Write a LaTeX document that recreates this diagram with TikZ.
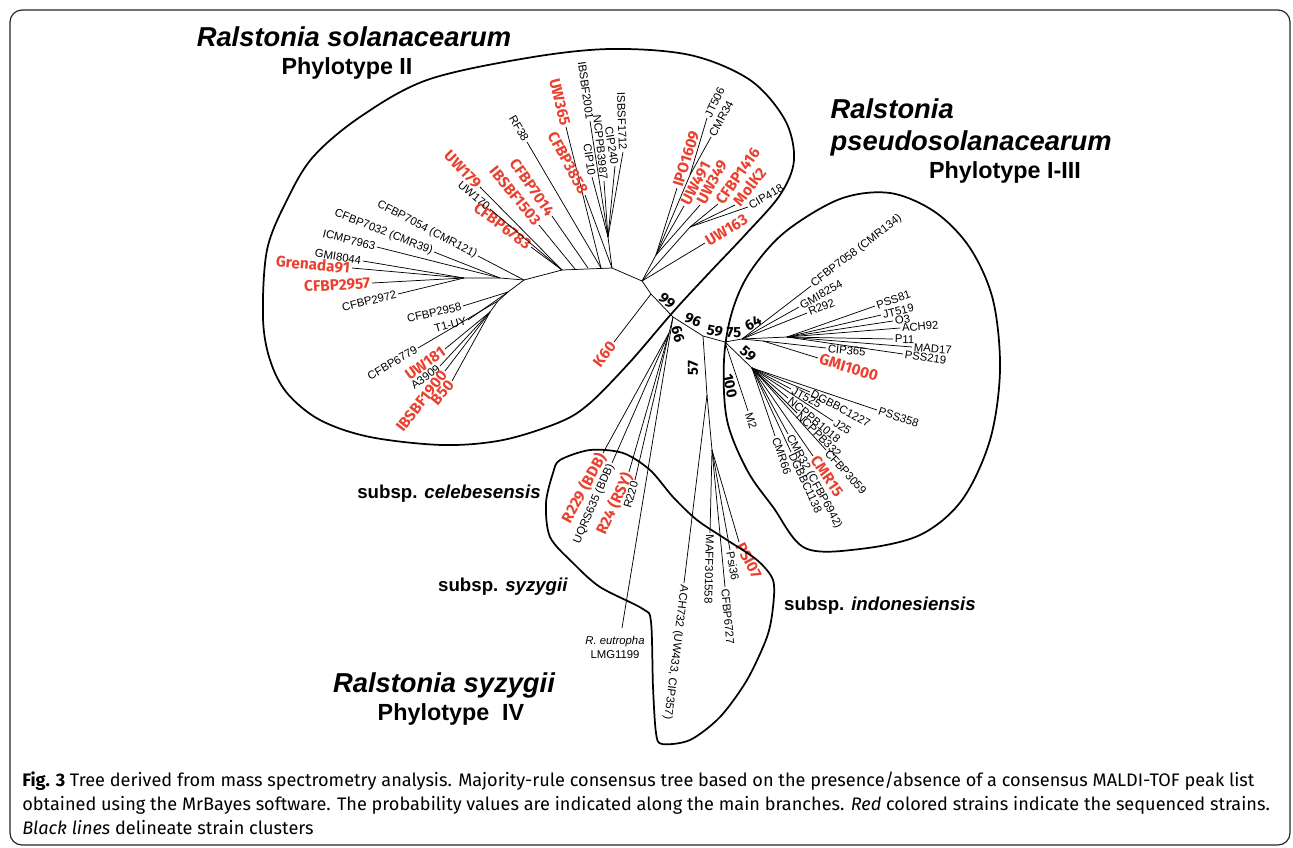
\documentclass[tikz,border=0pt]{standalone}
\usepackage{fontspec}
\setmainfont{Liberation Sans}
\newfontfamily\redfont{Fira Sans}
\newfontfamily\capfont{Fira Sans}
\definecolor{strainred}{HTML}{E8412F}

% leaf reading outward (anchor at the tip)
\newcommand{\leafR}[5][leaf]{%
  \coordinate (#3) at (#4);
  \draw[branch] (#2) -- (#3) node[#1, pos=1, sloped, allow upside down, anchor=west] {#5};}
% leaf reading inward (text ends at the tip)
\newcommand{\leafL}[5][leaf]{%
  \coordinate (#3) at (#4);
  \draw[branch] (#3) -- (#2) node[#1, pos=0, sloped, allow upside down, anchor=east] {#5};}
% same, with the text angle given
\newcommand{\leafRa}[6][leaf]{%
  \coordinate (#3) at (#4);
  \draw[branch] (#2) -- (#3);
  \node[#1, rotate=#5, anchor=west] (#3-t) at (#3) {#6};}
\newcommand{\leafLa}[6][leaf]{%
  \coordinate (#3) at (#4);
  \draw[branch] (#2) -- (#3);
  \node[#1, rotate=#5, anchor=east] (#3-t) at (#3) {#6};}

\begin{document}
\begin{tikzpicture}[
    x=0.75pt,
    y=-0.75pt,
    branch/.style={black, line width=0.55pt},
    leaf/.style={font=\fontsize{8.5}{10}\selectfont, inner sep=1.2pt},
    redleaf/.style={leaf, text=strainred, font=\redfont\bfseries\fontsize{11.5}{12}\selectfont},
    support/.style={font=\redfont\bfseries\fontsize{11}{12}\selectfont, inner sep=0pt},
    blob/.style={black, line width=1.3pt},
    title/.style={font=\bfseries\itshape\fontsize{20.5}{22}\selectfont},
    subtitle/.style={font=\bfseries\fontsize{17.5}{18}\selectfont},
    subsp/.style={font=\bfseries\fontsize{14}{15}\selectfont},
    caption/.style={font=\capfont\fontsize{13.6}{16}\selectfont, anchor=base west, inner sep=0pt},
    frame/.style={black!85, line width=0.9pt, rounded corners=9pt}
]

\useasboundingbox (0,0) rectangle (1293,847);

% =========================================================
% FRAME
% =========================================================

\draw[frame] (10,10) rectangle (1290,845);

% =========================================================
% BACKBONE
% =========================================================

\coordinate (a) at (642,281);
\coordinate (k) at (651,294);
\coordinate (b) at (673,317);
\coordinate (e) at (703,336);
\coordinate (c) at (725,342);

\coordinate (n1)  at (612,268);
\coordinate (n1b) at (601,268);
\coordinate (n2)  at (588,268);
\coordinate (n2b) at (575,269);
\coordinate (n3)  at (562,270);
\coordinate (n4)  at (524,280);
\coordinate (nh)  at (500,278);
\coordinate (ng)  at (464,278);
\coordinate (nc)  at (608,237);
\coordinate (n5)  at (508,292);
\coordinate (n6)  at (498,301);
\coordinate (n7)  at (490,312);

\draw[branch] (c) -- (e) -- (b) -- (k) -- (a) -- (n1) -- (n3) -- (n4) -- (nh) -- (ng);
\draw[branch] (n1) -- (nc);
\draw[branch] (n4) -- (n5) -- (n6) -- (n7);

% =========================================================
% PHYLOTYPE II
% =========================================================

\leafLa{nc}{ibsbf2001}{590,121}{-82}{IBSBF2001}
\leafLa{nc}{cip10}{592,177}{-82}{CIP10}
\leafLa{nc}{ncppb3987}{604,181}{-84}{NCPPB3987}
\leafLa{nc}{cip240}{615,166}{-81}{CIP240}
\leafLa{nc}{isbsf1712}{623,152}{-88}{ISBSF1712}

\leafL[redleaf]{n1b}{uw365}{566,127}{UW365}
\leafLa[redleaf]{n1}{cfbp3858}{585,195}{-62}{CFBP3858}
\leafL{n1b}{rf38}{527,142}{RF38}
\leafL[redleaf]{n2}{cfbp7014}{552,216}{CFBP7014}
\leafL[redleaf]{n2b}{ibsbf1503}{539,225}{IBSBF1503}
\leafL[redleaf]{n3}{cfbp6783}{531,247}{CFBP6783}
\leafL{n3}{uw170}{490,209}{UW170}
\leafL[redleaf]{n3}{uw179}{480,187}{UW179}

\leafL{n4}{cfbp7054}{478,256}{CFBP7054 (CMR121)}
\leafL{nh}{cfbp7032}{434,252}{CFBP7032 (CMR39)}
\leafL{nh}{icmp7963}{377,247}{ICMP7963}
\leafL{ng}{gmi8044}{363,261}{GMI8044}
\leafL[redleaf]{ng}{grenada91}{352,268}{Grenada91}
\leafL[redleaf]{ng}{cfbp2957}{372,283}{CFBP2957}
\leafL{ng}{cfbp2972}{398,294}{CFBP2972}

\leafLa{n5}{cfbp2958}{463,306}{13}{CFBP2958}
\leafLa{n5}{t1uy}{468,320}{15}{T1-UY}
\leafL{n6}{cfbp6779}{418,348}{CFBP6779}
\leafLa[redleaf]{n7}{uw181}{445,349}{36}{UW181}
\leafLa{n7}{a3909}{440,366}{37}{A3909}
\leafLa[redleaf]{n7}{ibsbf1900}{445,371}{52}{IBSBF1900}
\leafLa[redleaf]{n7}{b50}{452,381}{50}{B50}

\leafL[redleaf]{k}{k60}{614,342}{K60}

% upper group
\coordinate (q1) at (656,255);
\coordinate (q2) at (690,227);
\coordinate (q3) at (690,175);
\draw[branch] (a) -- (q1) -- (q3);
\draw[branch] (a) -- (q2);

\leafR[redleaf]{q1}{ipo1609}{677,188}{IPO1609}
\leafRa{q3}{jt506}{707,118}{64}{JT506}
\leafR{q3}{cmr34}{711,137}{CMR34}
\leafRa[redleaf]{q1}{uw491}{684,206}{62}{UW491}
\leafRa[redleaf]{q1}{uw349}{700,205}{62}{UW349}
\leafRa[redleaf]{q2}{cfbp1416}{718,204}{55}{CFBP1416}
\leafRa[redleaf]{q2}{molk2}{735,205}{52}{MolK2}
\leafRa{q2}{cip418}{748,207}{30}{CIP418}
\leafR[redleaf]{a}{uw163}{705,243}{UW163}

% =========================================================
% SUBSP. CELEBESENSIS / OUTGROUP
% =========================================================

\coordinate (d) at (669,333);
\draw[branch] (b) -- (d);

\leafL[redleaf]{d}{r229}{603,453}{R229 (BDB)}
\leafL{d}{uqrs635}{612,463}{UQRS635 (BDB)}
\leafLa[redleaf]{d}{r24}{629,472}{65}{R24 (RSY)}
\leafLa{d}{r220}{635,480}{74}{R220}

\coordinate (eut) at (622,628);
\draw[branch] (b) -- (eut);
\node[leaf, anchor=north, align=center, inner sep=0pt, font=\fontsize{8.5}{10.5}\selectfont]
  (eutlabel) at (615,636) {\textit{R. eutropha}\\LMG1199};

% =========================================================
% SUBSP. INDONESIENSIS
% =========================================================

\coordinate (g)  at (707,395);
\coordinate (g2) at (712,450);
\draw[branch] (e) -- (g) -- (g2);

\leafR{g}{ach732}{684,583}{ACH732 (UW433, CIP357)}
\leafR{g2}{maff}{710,533}{MAFF301558}
\leafR{g2}{cfbp6727}{725,587}{CFBP6727}
\leafR{g2}{psi36}{730,550}{Psi36}
\leafRa[redleaf]{g2}{psi07}{739,542}{-62}{PSI07}

% =========================================================
% PHYLOTYPE I-III
% =========================================================

\coordinate (n75)  at (742,339);
\coordinate (npss) at (787,337);
\coordinate (ncip) at (763,341);
\coordinate (n59)  at (752,368);
\draw[branch] (c) -- (n75) -- (npss);
\draw[branch] (n75) -- (ncip);
\draw[branch] (c) -- (n59);

\leafR{n75}{cfbp7058}{811,286}{CFBP7058 (CMR134)}
\leafR{n75}{gmi8254}{799,307}{GMI8254}
\leafR{n75}{r292}{807,313}{R292}
\leafR{npss}{pss81}{875,306}{PSS81}
\leafR{npss}{jt519}{881,315}{JT519}
\leafR{npss}{o3}{893,321}{O3}
\leafR{npss}{ach92}{900,328}{ACH92}
\leafR{npss}{p11}{893,339}{P11}
\leafR{npss}{mad17}{912,347}{MAD17}
\leafR{npss}{pss219}{903,354}{PSS219}
\leafR{ncip}{cip365}{826,348}{CIP365}
\leafR[redleaf]{ncip}{gmi1000}{818,358}{GMI1000}
\leafR{c}{m2}{748,411}{M2}

\leafR{n59}{pss358}{877,410}{PSS358}
\leafRa{n59}{dgbbc1227}{810,392}{-28}{DGBBC1227}
\leafR{n59}{jt525}{791,389}{JT525}
\leafR{n59}{ncppb1018}{788,398}{NCPPB1018}
\leafR{n59}{j25}{833,421}{J25}
\leafR{n59}{ncppb332}{797,413}{NCPPB332}
\leafR{n59}{cfbp3059}{826,450}{CFBP3059}
\leafR[redleaf]{n59}{cmr15}{813,456}{CMR15}
\leafR{n59}{cmr32}{788,434}{CMR32 (CFBP6942)}
\leafR{n59}{dgbbc1138}{791,452}{DGBBC1138}
\leafR{n59}{cmr66}{775,436}{CMR66}

% =========================================================
% PROBABILITY VALUES
% =========================================================

\node[support, rotate=-40] (s99)  at (667,301) {99};
\node[support, rotate=-22] (s96)  at (693,320) {96};
\node[support, rotate=-12] (s59a) at (715,331) {59};
\node[support]             (s75)  at (734,333) {75};
\node[support, rotate=28]  (s64)  at (753,323) {64};
\node[support, rotate=-40] (s59b) at (748,354) {59};
\node[support, rotate=-75] (s66)  at (678,334) {66};
\node[support, rotate=90]  (s57)  at (693,368) {57};
\node[support, rotate=-78] (s100) at (730,386) {100};

% =========================================================
% CLUSTER OUTLINES
% =========================================================

% Phylotype II
\draw[blob] plot[smooth cycle, tension=0.55] coordinates {
  (263,318) (267,250) (287,200) (313,157) (360,117) (427,80) (527,58)
  (610,49) (690,55) (750,80) (785,120) (794,160) (780,195) (745,235)
  (710,272) (673,312) (630,362) (590,403) (560,422) (503,440) (443,445)
  (370,437) (320,420) (287,393) (270,360)};

% Phylotype I-III
\draw[blob] plot[smooth cycle, tension=0.55] coordinates {
  (840,199) (890,193) (935,212) (970,248) (993,300) (1000,370) (990,440)
  (962,500) (920,535) (860,549) (805,548) (773,507) (747,470) (727,420)
  (724,360) (732,312) (750,272) (785,232)};

% syzygii / indonesiensis
\draw[blob] plot[smooth cycle, tension=0.5] coordinates {
  (560,460) (590,450) (623,453) (650,470) (673,497) (697,520) (727,540)
  (757,560) (773,580) (773,607) (767,637) (747,680) (720,717) (690,740)
  (662,744) (656,733) (653,687) (651,622) (643,609) (600,587) (573,563)
  (550,537) (546,503) (553,473)};

% =========================================================
% GROUP NAMES
% =========================================================

\node[title, anchor=base]         (rsol)  at (354,46)  {Ralstonia solanacearum};
\node[subtitle, anchor=base]      (ph2)   at (347,74)  {Phylotype II};
\node[title, anchor=base west]    (rpse1) at (826,118) {Ralstonia};
\node[title, anchor=base west]    (rpse2) at (826,150) {pseudosolanacearum};
\node[subtitle, anchor=base]      (ph13)  at (1005,178) {Phylotype I-III};
\node[subsp, anchor=base]         (celeb) at (449,498) {subsp. \textit{celebesensis}};
\node[subsp, anchor=base]         (syzy)  at (503,591) {subsp. \textit{syzygii}};
\node[subsp, anchor=base]         (indo)  at (880,610) {subsp. \textit{indonesiensis}};
\node[title, anchor=base]         (rsyz)  at (444,692) {Ralstonia syzygii};
\node[subtitle, anchor=base]      (ph4)   at (451,720) {Phylotype\ \ IV};

% =========================================================
% CAPTION
% =========================================================

\node[caption] (cap1) at (22,786) {\textbf{Fig. 3} Tree derived from mass spectrometry analysis. Majority-rule consensus tree based on the presence/absence of a consensus MALDI-TOF peak list};
\node[caption] (cap2) at (22,810) {obtained using the MrBayes software. The probability values are indicated along the main branches. \textit{Red} colored strains indicate the sequenced strains.};
\node[caption] (cap3) at (22,834) {\textit{Black lines} delineate strain clusters};

\end{tikzpicture}
\end{document}
